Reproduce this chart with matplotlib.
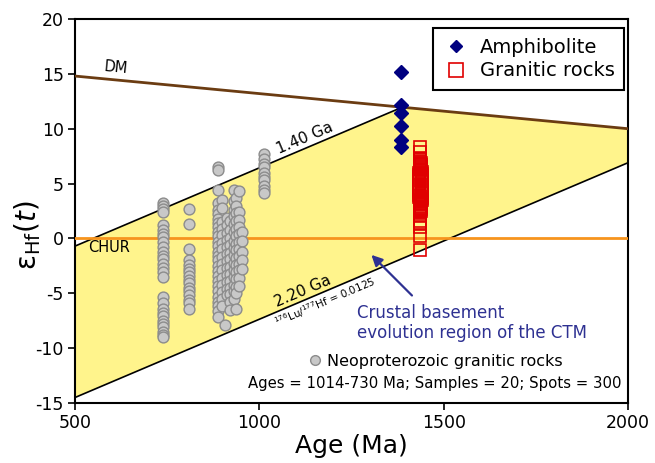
import numpy as np
import matplotlib
matplotlib.use("Agg")
import matplotlib.pyplot as plt
from matplotlib.lines import Line2D

plt.rcParams['font.family'] = ['DejaVu Sans']
plt.rcParams['mathtext.fontset'] = 'dejavusans'
plt.rcParams['axes.unicode_minus'] = False

# ---------------- data ----------------
# Model lines
dm_ages = [500, 2000]
dm_eps = [14.8, 10.0]
chur_eps = 0.0
upper_eps_500 = -0.7          # 1.40 Ga crustal evolution line at 500 Ma
lower_eps_ends = [-14.5, 6.9]  # 2.20 Ga crustal evolution line at 500 / 2000 Ma

# Amphibolite
amph_age = [1384, 1384, 1384, 1384, 1384, 1384]
amph_eps = [15.2, 12.2, 11.4, 10.25, 9.0, 8.3]

# Granitic rocks (open red squares)
gran_eps = [8.3, 7.9, 7.3, 7.2, 7.1, 7.0, 6.9, 6.8, 6.7, 6.6, 6.5, 6.4, 6.3,
            6.2, 6.1, 6.0, 5.9, 5.8, 5.7, 5.6, 5.5, 5.4, 5.3, 5.2, 5.1, 5.0,
            4.9, 4.8, 4.7, 4.6, 4.5, 4.4, 4.3, 4.2, 4.1, 4.0, 3.9, 3.8, 3.7,
            3.6, 3.5, 3.4, 3.3, 3.2, 3.1, 3.0, 2.9, 2.8, 2.7, 2.6, 2.5, 2.4,
            2.3, 2.0, 1.6, 1.4, 1.07, 0.25, -1.05]
gran_age = [1437, 1437, 1437, 1437, 1437, 1437, 1438, 1436, 1438, 1436, 1439,
            1435, 1439, 1435, 1440, 1434, 1440, 1434, 1441, 1434, 1441, 1434,
            1441, 1434, 1441, 1434, 1441, 1434, 1441, 1434, 1441, 1434, 1441,
            1434, 1441, 1434, 1440, 1434, 1440, 1435, 1440, 1435, 1439, 1435,
            1439, 1436, 1439, 1436, 1438, 1436, 1438, 1437, 1437, 1437, 1437,
            1437, 1437, 1437, 1437]

# Neoproterozoic granitic rocks (grey circles), grouped by age column
neo_groups = {
    738: [3.2, 3.0, 2.7, 2.4, 1.2, 0.8, 0.4, 0.1, -0.3, -0.8, -1.2, -1.6, -1.9,
          -2.3, -2.7, -3.1, -3.5, -5.3, -5.9, -6.4, -6.8, -7.1, -7.5, -7.8,
          -8.1, -8.5, -8.8, -9.0],
    808: [2.7, 1.3, -1.0, -2.0, -2.4, -2.8, -3.1, -3.4, -3.8, -4.1, -4.5, -4.8,
          -5.2, -5.6, -5.9, -6.4],
    887: [6.5, 6.2, 4.4, 3.2, 2.6, 2.2, 1.8, 1.4, 1.0, 0.6, 0.2, -0.3, -0.7,
          -1.2, -1.6, -2.0, -2.5, -3.0, -3.4, -3.9, -4.3, -4.8, -5.3, -5.8,
          -6.2, -6.6, -7.2],
    900: [3.5, 2.8, 1.5, 0.9, 0.3, -0.4, -1.0, -1.7, -2.3, -2.9, -3.6, -4.2,
          -4.9, -5.5, -6.2],
    906: [-7.9],
    912: [1.9, 1.2, 0.5, -0.1, -0.8, -1.4, -2.1, -2.7, -3.3, -4.0, -4.6, -5.2],
    920: [1.6, 0.8, 0.0, -0.6, -1.3, -1.9, -2.6, -3.2, -3.9, -4.5, -5.1, -5.8,
          -6.5],
    930: [4.4, 3.4, 2.6, 2.0, 1.3, 0.6, -0.2, -0.9, -1.5, -2.2, -2.9, -3.5,
          -4.2, -4.8, -5.5],
    938: [3.7, 3.0, 2.3, 1.6, 0.9, 0.2, -0.5, -1.1, -1.8, -2.4, -3.1, -3.7,
          -4.4, -5.0, -6.4],
    946: [4.3, 2.4, 1.7, 1.0, 0.4, -0.3, -1.0, -1.6, -2.3, -2.9, -3.6, -4.3],
    952: [0.6, -0.2, -1.2, -2.0, -2.8],
    1012: [7.7, 7.2, 6.8, 6.5, 6.0, 5.6, 5.3, 4.8, 4.4, 4.1],
}

x_ticks = [500, 1000, 1500, 2000]
y_ticks = [-15, -10, -5, 0, 5, 10, 15, 20]

# ---------------- colours ----------------
c_yellow = '#fff48c'
c_dm = '#6b3c12'
c_chur = '#f7941d'
c_navy = '#000080'
c_red = '#e00000'
c_blue_txt = '#2e3192'
c_grey_fill = '#c8c8c8'
c_grey_edge = '#8c8c8c'

fig = plt.figure(figsize=(6.55, 4.63), dpi=100)
ax = fig.add_axes([75 / 655, 60 / 463, 553 / 655, 384 / 463])
ax.set_xlim(500, 2000)
ax.set_ylim(-15, 20)

# model lines
dm_slope = (dm_eps[1] - dm_eps[0]) / (dm_ages[1] - dm_ages[0])
cr_slope = (lower_eps_ends[1] - lower_eps_ends[0]) / (dm_ages[1] - dm_ages[0])
x_int = dm_ages[0] + (dm_eps[0] - upper_eps_500) / (cr_slope - dm_slope)
y_int = upper_eps_500 + cr_slope * (x_int - dm_ages[0])

poly_x = [500, x_int, 2000, 2000, 500]
poly_y = [upper_eps_500, y_int, dm_eps[1], lower_eps_ends[1], lower_eps_ends[0]]
ax.fill(poly_x, poly_y, color=c_yellow, zorder=1, lw=0)
ax.plot([500, x_int], [upper_eps_500, y_int], color='black', lw=1.2, zorder=2)
ax.plot([500, 2000], lower_eps_ends, color='black', lw=1.2, zorder=2)
ax.plot(dm_ages, dm_eps, color=c_dm, lw=2, zorder=3)
ax.axhline(chur_eps, color=c_chur, lw=2, zorder=3)

# data points
for age, vals in neo_groups.items():
    ax.plot([age] * len(vals), vals, 'o', ms=7.8, mfc=c_grey_fill,
            mec=c_grey_edge, mew=1.0, zorder=4, ls='none')
ax.plot(gran_age, gran_eps, 's', ms=8.8, mfc='none', mec=c_red, mew=1.2,
        zorder=5, ls='none')
ax.plot(amph_age, amph_eps, 'D', ms=7.5, color=c_navy, zorder=6, ls='none')

# text along lines
def disp_angle(slope):
    p1 = ax.transData.transform((1000, 0))
    p2 = ax.transData.transform((1100, 100 * slope))
    return np.degrees(np.arctan2(p2[1] - p1[1], p2[0] - p1[0]))

ang_cr = disp_angle(cr_slope)
ang_dm = disp_angle(dm_slope)

xa = 1132
ax.text(xa, upper_eps_500 + cr_slope * (xa - 500) + 0.15, '1.40 Ga',
        rotation=ang_cr, rotation_mode='anchor', ha='center', va='bottom',
        fontsize=11, zorder=7)
xb = 1127
ax.text(xb, lower_eps_ends[0] + cr_slope * (xb - 500) + 0.15, '2.20 Ga',
        rotation=ang_cr, rotation_mode='anchor', ha='center', va='bottom',
        fontsize=11, zorder=7)
xc = 1170
ax.text(xc, lower_eps_ends[0] + cr_slope * (xc - 500) - 0.25,
        r'$^{176}$Lu/$^{177}$Hf = 0.0125',
        rotation=ang_cr, rotation_mode='anchor', ha='center', va='top',
        fontsize=7.5, zorder=7)
xd = 578
ax.text(xd, dm_eps[0] + dm_slope * (xd - 500) + 0.4, 'DM',
        rotation=ang_dm, rotation_mode='anchor', ha='left', va='bottom',
        fontsize=10.5, zorder=7)
ax.text(535, -0.1, 'CHUR', ha='left', va='top', fontsize=10.5, zorder=7)

# annotation arrow
ax.annotate('', xy=(1304, -1.5), xytext=(1414, -5.2),
            arrowprops=dict(arrowstyle='-|>', color=c_blue_txt, lw=1.6,
                            mutation_scale=16, shrinkA=0, shrinkB=0),
            zorder=7)
ax.text(1266, -7.7, 'Crustal basement\nevolution region of the CTM',
        color=c_blue_txt, fontsize=12, ha='left', va='center',
        linespacing=1.15, zorder=7)

# legends
h_amph = Line2D([], [], marker='D', ls='none', color=c_navy, ms=6.5)
h_gran = Line2D([], [], marker='s', ls='none', mfc='none', mec=c_red, mew=1.2, ms=9.5)
leg1 = ax.legend([h_amph, h_gran], ['Amphibolite', 'Granitic rocks'],
                 loc='upper right', bbox_to_anchor=(0.9935, 0.977),
                 borderaxespad=0, fontsize=14, frameon=True, fancybox=False,
                 edgecolor='black', framealpha=1, handlelength=1.3,
                 handletextpad=0.6, labelspacing=0.25, borderpad=0.5)
leg1.get_frame().set_linewidth(1.5)
ax.add_artist(leg1)

h_neo = Line2D([], [], marker='o', ls='none', mfc=c_grey_fill, mec=c_grey_edge,
               mew=1.0, ms=7)
leg2 = ax.legend([h_neo], ['Neoproterozoic granitic rocks'],
                 loc='center left', bbox_to_anchor=(0.41, 0.108),
                 borderaxespad=0, fontsize=11.5, frameon=False,
                 handlelength=0.8, handletextpad=0.4)
ax.text(0.988, 0.052, 'Ages = 1014-730 Ma; Samples = 20; Spots = 300',
        transform=ax.transAxes, ha='right', va='center', fontsize=10.7)

# axes styling
ax.set_xticks(x_ticks)
ax.set_yticks(y_ticks)
ax.tick_params(axis='both', direction='out', length=5, width=1.2,
               labelsize=12.5, pad=3)
ax.tick_params(top=False, right=False)
for s in ax.spines.values():
    s.set_linewidth(1.5)

ax.set_xlabel('Age (Ma)', fontsize=18, labelpad=1)
ax.set_ylabel(r'ε$_{\rm Hf}$($\it{t}$)', fontsize=20)
ax.yaxis.set_label_coords(-0.058, 0.4375)

fig.savefig('out.png', dpi=100)
